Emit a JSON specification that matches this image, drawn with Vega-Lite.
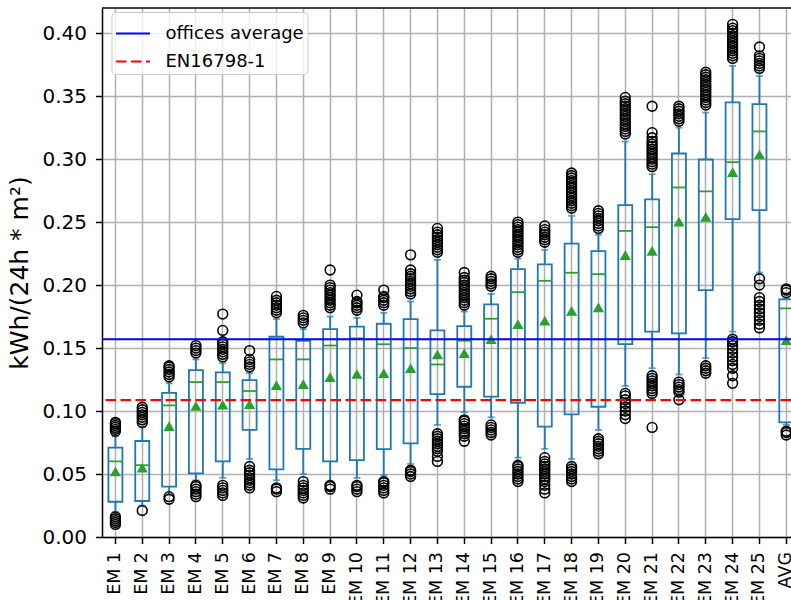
{
"$schema": "https://vega.github.io/schema/vega-lite/v6.json",
"width": 689, "height": 529,
"autosize": {"type": "none"},
"padding": {"left": 102, "top": 8, "right": 0, "bottom": 63},
"background": "white",
"config": {
 "font": "DejaVu Sans",
 "view": {"stroke": null},
 "axis": {"labelFont": "DejaVu Sans", "labelColor": "#000", "titleColor": "#000", "domainColor": "#000", "tickColor": "#000", "domainWidth": 1.5, "tickWidth": 1.5, "tickSize": 6.5, "gridColor": "#b0b0b0", "gridWidth": 1.5, "gridOpacity": 1, "titleFontWeight": "normal", "titleFont": "DejaVu Sans"},
 "legend": {"orient": "none", "legendX": 9.5, "legendY": 4, "padding": 3, "fillColor": "rgba(255,255,255,0.8)", "strokeColor": "#cccccc", "cornerRadius": 4, "labelFontSize": 18, "labelColor": "#000", "labelFont": "DejaVu Sans", "symbolSize": 1156, "symbolStrokeWidth": 2.2, "symbolType": "stroke", "rowPadding": -1, "labelOffset": 14, "labelLimit": 300}
},
"datasets": {
 "boxes": [
  {"c":"EM 1","q1":0.028,"q3":0.071,"med":0.060,"mean":0.052,"lo":0.020,"hi":0.080},
  {"c":"EM 2","q1":0.0286,"q3":0.0762,"med":0.057,"mean":0.055,"lo":0.025,"hi":0.087},
  {"c":"EM 3","q1":0.040,"q3":0.1145,"med":0.1045,"mean":0.088,"lo":0.034,"hi":0.122},
  {"c":"EM 4","q1":0.0505,"q3":0.1325,"med":0.123,"mean":0.104,"lo":0.045,"hi":0.141},
  {"c":"EM 5","q1":0.060,"q3":0.1307,"med":0.123,"mean":0.105,"lo":0.047,"hi":0.138},
  {"c":"EM 6","q1":0.085,"q3":0.1246,"med":0.1159,"mean":0.1055,"lo":0.062,"hi":0.130},
  {"c":"EM 7","q1":0.0537,"q3":0.159,"med":0.141,"mean":0.1206,"lo":0.045,"hi":0.173},
  {"c":"EM 8","q1":0.070,"q3":0.1558,"med":0.141,"mean":0.1214,"lo":0.050,"hi":0.165},
  {"c":"EM 9","q1":0.060,"q3":0.165,"med":0.152,"mean":0.127,"lo":0.044,"hi":0.175},
  {"c":"EM 10","q1":0.061,"q3":0.167,"med":0.1577,"mean":0.1294,"lo":0.047,"hi":0.174},
  {"c":"EM 11","q1":0.0698,"q3":0.1693,"med":0.153,"mean":0.130,"lo":0.049,"hi":0.178},
  {"c":"EM 12","q1":0.0743,"q3":0.173,"med":0.150,"mean":0.134,"lo":0.058,"hi":0.187},
  {"c":"EM 13","q1":0.1135,"q3":0.164,"med":0.137,"mean":0.145,"lo":0.089,"hi":0.220},
  {"c":"EM 14","q1":0.1193,"q3":0.1675,"med":0.1558,"mean":0.146,"lo":0.099,"hi":0.179},
  {"c":"EM 15","q1":0.1114,"q3":0.1847,"med":0.1733,"mean":0.157,"lo":0.095,"hi":0.193},
  {"c":"EM 16","q1":0.1066,"q3":0.2127,"med":0.1944,"mean":0.169,"lo":0.063,"hi":0.221},
  {"c":"EM 17","q1":0.0876,"q3":0.2164,"med":0.2034,"mean":0.1717,"lo":0.070,"hi":0.228},
  {"c":"EM 18","q1":0.0974,"q3":0.233,"med":0.2098,"mean":0.1796,"lo":0.062,"hi":0.255},
  {"c":"EM 19","q1":0.1034,"q3":0.227,"med":0.2087,"mean":0.1823,"lo":0.085,"hi":0.240},
  {"c":"EM 20","q1":0.1532,"q3":0.2635,"med":0.243,"mean":0.2238,"lo":0.120,"hi":0.314},
  {"c":"EM 21","q1":0.163,"q3":0.268,"med":0.246,"mean":0.2272,"lo":0.134,"hi":0.288},
  {"c":"EM 22","q1":0.1616,"q3":0.3045,"med":0.2775,"mean":0.2503,"lo":0.129,"hi":0.325},
  {"c":"EM 23","q1":0.196,"q3":0.2997,"med":0.2744,"mean":0.2542,"lo":0.142,"hi":0.337},
  {"c":"EM 24","q1":0.2524,"q3":0.345,"med":0.2976,"mean":0.2897,"lo":0.163,"hi":0.374},
  {"c":"EM 25","q1":0.2595,"q3":0.3437,"med":0.322,"mean":0.3037,"lo":0.210,"hi":0.366},
  {"c":"AVG","q1":0.091,"q3":0.1886,"med":0.1815,"mean":0.1563,"lo":0.089,"hi":0.189}
 ],
 "outliers": [
  {"c":"EM 1","v":0.084},{"c":"EM 1","v":0.0855},{"c":"EM 1","v":0.087},{"c":"EM 1","v":0.0885},{"c":"EM 1","v":0.09},{"c":"EM 1","v":0.091},
  {"c":"EM 1","v":0.01},{"c":"EM 1","v":0.0115},{"c":"EM 1","v":0.013},{"c":"EM 1","v":0.0145},{"c":"EM 1","v":0.016},
  {"c":"EM 2","v":0.091},{"c":"EM 2","v":0.093},{"c":"EM 2","v":0.095},{"c":"EM 2","v":0.097},{"c":"EM 2","v":0.099},{"c":"EM 2","v":0.101},{"c":"EM 2","v":0.103},
  {"c":"EM 2","v":0.021},
  {"c":"EM 3","v":0.127},{"c":"EM 3","v":0.129},{"c":"EM 3","v":0.131},{"c":"EM 3","v":0.133},{"c":"EM 3","v":0.135},{"c":"EM 3","v":0.136},
  {"c":"EM 3","v":0.030},{"c":"EM 3","v":0.032},
  {"c":"EM 4","v":0.146},{"c":"EM 4","v":0.148},{"c":"EM 4","v":0.150},{"c":"EM 4","v":0.152},
  {"c":"EM 4","v":0.032},{"c":"EM 4","v":0.034},{"c":"EM 4","v":0.036},{"c":"EM 4","v":0.038},{"c":"EM 4","v":0.040},{"c":"EM 4","v":0.041},
  {"c":"EM 5","v":0.143},{"c":"EM 5","v":0.145},{"c":"EM 5","v":0.147},{"c":"EM 5","v":0.149},{"c":"EM 5","v":0.151},{"c":"EM 5","v":0.153},{"c":"EM 5","v":0.155},{"c":"EM 5","v":0.164},{"c":"EM 5","v":0.177},
  {"c":"EM 5","v":0.033},{"c":"EM 5","v":0.035},{"c":"EM 5","v":0.037},{"c":"EM 5","v":0.039},{"c":"EM 5","v":0.041},
  {"c":"EM 6","v":0.135},{"c":"EM 6","v":0.137},{"c":"EM 6","v":0.139},{"c":"EM 6","v":0.141},{"c":"EM 6","v":0.148},
  {"c":"EM 6","v":0.039},{"c":"EM 6","v":0.041},{"c":"EM 6","v":0.043},{"c":"EM 6","v":0.045},{"c":"EM 6","v":0.047},{"c":"EM 6","v":0.049},{"c":"EM 6","v":0.051},{"c":"EM 6","v":0.053},{"c":"EM 6","v":0.056},
  {"c":"EM 7","v":0.178},{"c":"EM 7","v":0.180},{"c":"EM 7","v":0.182},{"c":"EM 7","v":0.184},{"c":"EM 7","v":0.186},{"c":"EM 7","v":0.188},{"c":"EM 7","v":0.191},
  {"c":"EM 7","v":0.036},{"c":"EM 7","v":0.038},{"c":"EM 7","v":0.039},
  {"c":"EM 8","v":0.170},{"c":"EM 8","v":0.172},{"c":"EM 8","v":0.174},{"c":"EM 8","v":0.176},
  {"c":"EM 8","v":0.031},{"c":"EM 8","v":0.033},{"c":"EM 8","v":0.035},{"c":"EM 8","v":0.037},{"c":"EM 8","v":0.039},{"c":"EM 8","v":0.041},{"c":"EM 8","v":0.044},
  {"c":"EM 9","v":0.182},{"c":"EM 9","v":0.184},{"c":"EM 9","v":0.186},{"c":"EM 9","v":0.188},{"c":"EM 9","v":0.190},{"c":"EM 9","v":0.192},{"c":"EM 9","v":0.194},{"c":"EM 9","v":0.196},{"c":"EM 9","v":0.198},{"c":"EM 9","v":0.200},{"c":"EM 9","v":0.212},
  {"c":"EM 9","v":0.038},{"c":"EM 9","v":0.040},{"c":"EM 9","v":0.041},
  {"c":"EM 10","v":0.180},{"c":"EM 10","v":0.182},{"c":"EM 10","v":0.184},{"c":"EM 10","v":0.186},{"c":"EM 10","v":0.187},{"c":"EM 10","v":0.192},
  {"c":"EM 10","v":0.036},{"c":"EM 10","v":0.038},{"c":"EM 10","v":0.040},{"c":"EM 10","v":0.041},
  {"c":"EM 11","v":0.184},{"c":"EM 11","v":0.186},{"c":"EM 11","v":0.188},{"c":"EM 11","v":0.190},{"c":"EM 11","v":0.191},{"c":"EM 11","v":0.196},
  {"c":"EM 11","v":0.035},{"c":"EM 11","v":0.037},{"c":"EM 11","v":0.039},{"c":"EM 11","v":0.041},{"c":"EM 11","v":0.043},{"c":"EM 11","v":0.044},
  {"c":"EM 12","v":0.193},{"c":"EM 12","v":0.195},{"c":"EM 12","v":0.197},{"c":"EM 12","v":0.199},{"c":"EM 12","v":0.201},{"c":"EM 12","v":0.203},{"c":"EM 12","v":0.205},{"c":"EM 12","v":0.207},{"c":"EM 12","v":0.209},{"c":"EM 12","v":0.212},{"c":"EM 12","v":0.224},
  {"c":"EM 12","v":0.048},{"c":"EM 12","v":0.050},{"c":"EM 12","v":0.052},{"c":"EM 12","v":0.053},
  {"c":"EM 13","v":0.226},{"c":"EM 13","v":0.228},{"c":"EM 13","v":0.230},{"c":"EM 13","v":0.232},{"c":"EM 13","v":0.234},{"c":"EM 13","v":0.236},{"c":"EM 13","v":0.238},{"c":"EM 13","v":0.240},{"c":"EM 13","v":0.242},{"c":"EM 13","v":0.245},
  {"c":"EM 13","v":0.060},{"c":"EM 13","v":0.064},{"c":"EM 13","v":0.068},{"c":"EM 13","v":0.070},{"c":"EM 13","v":0.072},{"c":"EM 13","v":0.074},{"c":"EM 13","v":0.076},{"c":"EM 13","v":0.078},{"c":"EM 13","v":0.080},{"c":"EM 13","v":0.082},
  {"c":"EM 14","v":0.184},{"c":"EM 14","v":0.186},{"c":"EM 14","v":0.188},{"c":"EM 14","v":0.190},{"c":"EM 14","v":0.192},{"c":"EM 14","v":0.194},{"c":"EM 14","v":0.196},{"c":"EM 14","v":0.198},{"c":"EM 14","v":0.200},{"c":"EM 14","v":0.202},{"c":"EM 14","v":0.204},{"c":"EM 14","v":0.206},{"c":"EM 14","v":0.210},
  {"c":"EM 14","v":0.076},{"c":"EM 14","v":0.080},{"c":"EM 14","v":0.082},{"c":"EM 14","v":0.084},{"c":"EM 14","v":0.086},{"c":"EM 14","v":0.088},{"c":"EM 14","v":0.090},{"c":"EM 14","v":0.092},{"c":"EM 14","v":0.093},
  {"c":"EM 15","v":0.199},{"c":"EM 15","v":0.201},{"c":"EM 15","v":0.203},{"c":"EM 15","v":0.205},{"c":"EM 15","v":0.207},
  {"c":"EM 15","v":0.081},{"c":"EM 15","v":0.083},{"c":"EM 15","v":0.085},{"c":"EM 15","v":0.087},{"c":"EM 15","v":0.089},
  {"c":"EM 16","v":0.226},{"c":"EM 16","v":0.228},{"c":"EM 16","v":0.230},{"c":"EM 16","v":0.232},{"c":"EM 16","v":0.234},{"c":"EM 16","v":0.236},{"c":"EM 16","v":0.238},{"c":"EM 16","v":0.240},{"c":"EM 16","v":0.242},{"c":"EM 16","v":0.244},{"c":"EM 16","v":0.246},{"c":"EM 16","v":0.248},{"c":"EM 16","v":0.250},
  {"c":"EM 16","v":0.044},{"c":"EM 16","v":0.046},{"c":"EM 16","v":0.048},{"c":"EM 16","v":0.050},{"c":"EM 16","v":0.052},{"c":"EM 16","v":0.054},{"c":"EM 16","v":0.056},{"c":"EM 16","v":0.057},
  {"c":"EM 17","v":0.234},{"c":"EM 17","v":0.236},{"c":"EM 17","v":0.238},{"c":"EM 17","v":0.240},{"c":"EM 17","v":0.242},{"c":"EM 17","v":0.244},{"c":"EM 17","v":0.247},
  {"c":"EM 17","v":0.035},{"c":"EM 17","v":0.038},{"c":"EM 17","v":0.041},{"c":"EM 17","v":0.044},{"c":"EM 17","v":0.046},{"c":"EM 17","v":0.048},{"c":"EM 17","v":0.050},{"c":"EM 17","v":0.052},{"c":"EM 17","v":0.054},{"c":"EM 17","v":0.056},{"c":"EM 17","v":0.058},{"c":"EM 17","v":0.060},{"c":"EM 17","v":0.063},
  {"c":"EM 18","v":0.261},{"c":"EM 18","v":0.263},{"c":"EM 18","v":0.265},{"c":"EM 18","v":0.267},{"c":"EM 18","v":0.269},{"c":"EM 18","v":0.271},{"c":"EM 18","v":0.273},{"c":"EM 18","v":0.275},{"c":"EM 18","v":0.277},{"c":"EM 18","v":0.279},{"c":"EM 18","v":0.281},{"c":"EM 18","v":0.283},{"c":"EM 18","v":0.285},{"c":"EM 18","v":0.287},{"c":"EM 18","v":0.289},
  {"c":"EM 18","v":0.044},{"c":"EM 18","v":0.046},{"c":"EM 18","v":0.048},{"c":"EM 18","v":0.050},{"c":"EM 18","v":0.052},{"c":"EM 18","v":0.054},{"c":"EM 18","v":0.056},
  {"c":"EM 19","v":0.245},{"c":"EM 19","v":0.247},{"c":"EM 19","v":0.249},{"c":"EM 19","v":0.251},{"c":"EM 19","v":0.253},{"c":"EM 19","v":0.255},{"c":"EM 19","v":0.257},{"c":"EM 19","v":0.259},
  {"c":"EM 19","v":0.066},{"c":"EM 19","v":0.068},{"c":"EM 19","v":0.070},{"c":"EM 19","v":0.072},{"c":"EM 19","v":0.074},{"c":"EM 19","v":0.076},{"c":"EM 19","v":0.078},
  {"c":"EM 20","v":0.320},{"c":"EM 20","v":0.322},{"c":"EM 20","v":0.324},{"c":"EM 20","v":0.326},{"c":"EM 20","v":0.328},{"c":"EM 20","v":0.330},{"c":"EM 20","v":0.332},{"c":"EM 20","v":0.334},{"c":"EM 20","v":0.336},{"c":"EM 20","v":0.338},{"c":"EM 20","v":0.340},{"c":"EM 20","v":0.342},{"c":"EM 20","v":0.344},{"c":"EM 20","v":0.346},{"c":"EM 20","v":0.349},
  {"c":"EM 20","v":0.094},{"c":"EM 20","v":0.097},{"c":"EM 20","v":0.100},{"c":"EM 20","v":0.103},{"c":"EM 20","v":0.106},{"c":"EM 20","v":0.109},{"c":"EM 20","v":0.112},{"c":"EM 20","v":0.114},
  {"c":"EM 21","v":0.294},{"c":"EM 21","v":0.296},{"c":"EM 21","v":0.298},{"c":"EM 21","v":0.300},{"c":"EM 21","v":0.302},{"c":"EM 21","v":0.304},{"c":"EM 21","v":0.306},{"c":"EM 21","v":0.308},{"c":"EM 21","v":0.310},{"c":"EM 21","v":0.312},{"c":"EM 21","v":0.314},{"c":"EM 21","v":0.317},{"c":"EM 21","v":0.321},{"c":"EM 21","v":0.342},
  {"c":"EM 21","v":0.087},{"c":"EM 21","v":0.114},{"c":"EM 21","v":0.116},{"c":"EM 21","v":0.118},{"c":"EM 21","v":0.120},{"c":"EM 21","v":0.122},{"c":"EM 21","v":0.124},{"c":"EM 21","v":0.126},{"c":"EM 21","v":0.128},
  {"c":"EM 22","v":0.330},{"c":"EM 22","v":0.332},{"c":"EM 22","v":0.334},{"c":"EM 22","v":0.336},{"c":"EM 22","v":0.338},{"c":"EM 22","v":0.340},{"c":"EM 22","v":0.342},
  {"c":"EM 22","v":0.109},{"c":"EM 22","v":0.115},{"c":"EM 22","v":0.117},{"c":"EM 22","v":0.119},{"c":"EM 22","v":0.121},{"c":"EM 22","v":0.123},
  {"c":"EM 23","v":0.343},{"c":"EM 23","v":0.345},{"c":"EM 23","v":0.347},{"c":"EM 23","v":0.349},{"c":"EM 23","v":0.351},{"c":"EM 23","v":0.353},{"c":"EM 23","v":0.355},{"c":"EM 23","v":0.357},{"c":"EM 23","v":0.359},{"c":"EM 23","v":0.361},{"c":"EM 23","v":0.363},{"c":"EM 23","v":0.365},{"c":"EM 23","v":0.367},{"c":"EM 23","v":0.369},
  {"c":"EM 23","v":0.130},{"c":"EM 23","v":0.132},{"c":"EM 23","v":0.134},{"c":"EM 23","v":0.136},
  {"c":"EM 24","v":0.380},{"c":"EM 24","v":0.382},{"c":"EM 24","v":0.384},{"c":"EM 24","v":0.386},{"c":"EM 24","v":0.388},{"c":"EM 24","v":0.390},{"c":"EM 24","v":0.392},{"c":"EM 24","v":0.394},{"c":"EM 24","v":0.396},{"c":"EM 24","v":0.398},{"c":"EM 24","v":0.400},{"c":"EM 24","v":0.402},{"c":"EM 24","v":0.404},{"c":"EM 24","v":0.407},
  {"c":"EM 24","v":0.122},{"c":"EM 24","v":0.128},{"c":"EM 24","v":0.134},{"c":"EM 24","v":0.137},{"c":"EM 24","v":0.140},{"c":"EM 24","v":0.143},{"c":"EM 24","v":0.146},{"c":"EM 24","v":0.149},{"c":"EM 24","v":0.152},{"c":"EM 24","v":0.155},{"c":"EM 24","v":0.157},
  {"c":"EM 25","v":0.372},{"c":"EM 25","v":0.374},{"c":"EM 25","v":0.376},{"c":"EM 25","v":0.378},{"c":"EM 25","v":0.380},{"c":"EM 25","v":0.382},{"c":"EM 25","v":0.389},
  {"c":"EM 25","v":0.166},{"c":"EM 25","v":0.169},{"c":"EM 25","v":0.172},{"c":"EM 25","v":0.175},{"c":"EM 25","v":0.178},{"c":"EM 25","v":0.181},{"c":"EM 25","v":0.184},{"c":"EM 25","v":0.187},{"c":"EM 25","v":0.190},{"c":"EM 25","v":0.200},{"c":"EM 25","v":0.205},
  {"c":"AVG","v":0.194},{"c":"AVG","v":0.196},{"c":"AVG","v":0.197},
  {"c":"AVG","v":0.081},{"c":"AVG","v":0.083},{"c":"AVG","v":0.084}
 ],
 "refs": [
  {"name":"offices average","value":0.157},
  {"name":"EN16798-1","value":0.1087}
 ]
},
"layer": [
 {
  "data": {"name": "boxes"},
  "mark": {"type": "rule", "color": "#1f77b4", "strokeWidth": 1.8},
  "encoding": {
   "x": {"field": "c", "type": "nominal", "title": null,
    "scale": {"domain": ["EM 1","EM 2","EM 3","EM 4","EM 5","EM 6","EM 7","EM 8","EM 9","EM 10","EM 11","EM 12","EM 13","EM 14","EM 15","EM 16","EM 17","EM 18","EM 19","EM 20","EM 21","EM 22","EM 23","EM 24","EM 25","AVG"], "range": [0, 697.7], "paddingInner": 0, "paddingOuter": 0},
    "axis": {"labelAngle": 270, "labelFontSize": 17.5, "labelPadding": 8, "grid": true, "bandPosition": 0.5, "labelOverlap": false, "labelLimit": 0}},
   "y": {"field": "lo", "type": "quantitative", "title": "kWh/(24h * m²)",
    "scale": {"domain": [0, 0.42], "nice": false, "zero": false},
    "axis": {"values": [0,0.05,0.1,0.15,0.2,0.25,0.3,0.35,0.4], "format": ".2f", "labelFontSize": 20, "labelPadding": 9, "titleFontSize": 25, "titlePadding": 9, "grid": true}},
   "y2": {"field": "q1"}
  }
 },
 {
  "data": {"name": "boxes"},
  "mark": {"type": "rule", "color": "#1f77b4", "strokeWidth": 1.8},
  "encoding": {
   "x": {"field": "c", "type": "nominal", "title": null},
   "y": {"field": "q3", "type": "quantitative", "title": "kWh/(24h * m²)"},
   "y2": {"field": "hi"}
  }
 },
 {
  "data": {"name": "boxes"},
  "mark": {"type": "tick", "color": "#1f77b4", "size": 7, "thickness": 1.8},
  "encoding": {
   "x": {"field": "c", "type": "nominal", "title": null},
   "y": {"field": "lo", "type": "quantitative", "title": "kWh/(24h * m²)"}
  }
 },
 {
  "data": {"name": "boxes"},
  "mark": {"type": "tick", "color": "#1f77b4", "size": 7, "thickness": 1.8},
  "encoding": {
   "x": {"field": "c", "type": "nominal", "title": null},
   "y": {"field": "hi", "type": "quantitative", "title": "kWh/(24h * m²)"}
  }
 },
 {
  "data": {"name": "boxes"},
  "mark": {"type": "bar", "filled": false, "color": "#1f77b4", "strokeWidth": 1.8, "width": 14},
  "encoding": {
   "x": {"field": "c", "type": "nominal", "title": null},
   "y": {"field": "q1", "type": "quantitative", "title": "kWh/(24h * m²)"},
   "y2": {"field": "q3"}
  }
 },
 {
  "data": {"name": "boxes"},
  "mark": {"type": "tick", "color": "#2ca02c", "size": 14, "thickness": 1.8, "opacity": 1},
  "encoding": {
   "x": {"field": "c", "type": "nominal", "title": null},
   "y": {"field": "med", "type": "quantitative", "title": "kWh/(24h * m²)"}
  }
 },
 {
  "data": {"name": "outliers"},
  "mark": {"type": "point", "shape": "circle", "filled": false, "size": 95, "stroke": "#000", "strokeWidth": 1.6, "opacity": 1},
  "encoding": {
   "x": {"field": "c", "type": "nominal", "title": null},
   "y": {"field": "v", "type": "quantitative", "title": "kWh/(24h * m²)"}
  }
 },
 {
  "data": {"name": "boxes"},
  "mark": {"type": "point", "shape": "triangle-up", "filled": true, "size": 125, "color": "#2ca02c", "opacity": 1},
  "encoding": {
   "x": {"field": "c", "type": "nominal", "title": null},
   "y": {"field": "mean", "type": "quantitative", "title": "kWh/(24h * m²)"}
  }
 },
 {
  "data": {"name": "refs"},
  "mark": {"type": "rule", "strokeWidth": 2.2},
  "encoding": {
   "y": {"field": "value", "type": "quantitative", "title": "kWh/(24h * m²)"},
   "color": {"field": "name", "type": "nominal", "scale": {"domain": ["offices average", "EN16798-1"], "range": ["#0000ff", "#ff0000"]}, "legend": {"title": null}},
   "strokeDash": {"field": "name", "type": "nominal", "scale": {"domain": ["offices average", "EN16798-1"], "range": [[1, 0], [10.5, 4.5]]}, "legend": {"title": null}}
  }
 },
 {
  "data": {"values": [{}]},
  "mark": {"type": "rule", "color": "#000", "strokeWidth": 1.5},
  "encoding": {"y": {"datum": 0.42}}
 }
]
}
